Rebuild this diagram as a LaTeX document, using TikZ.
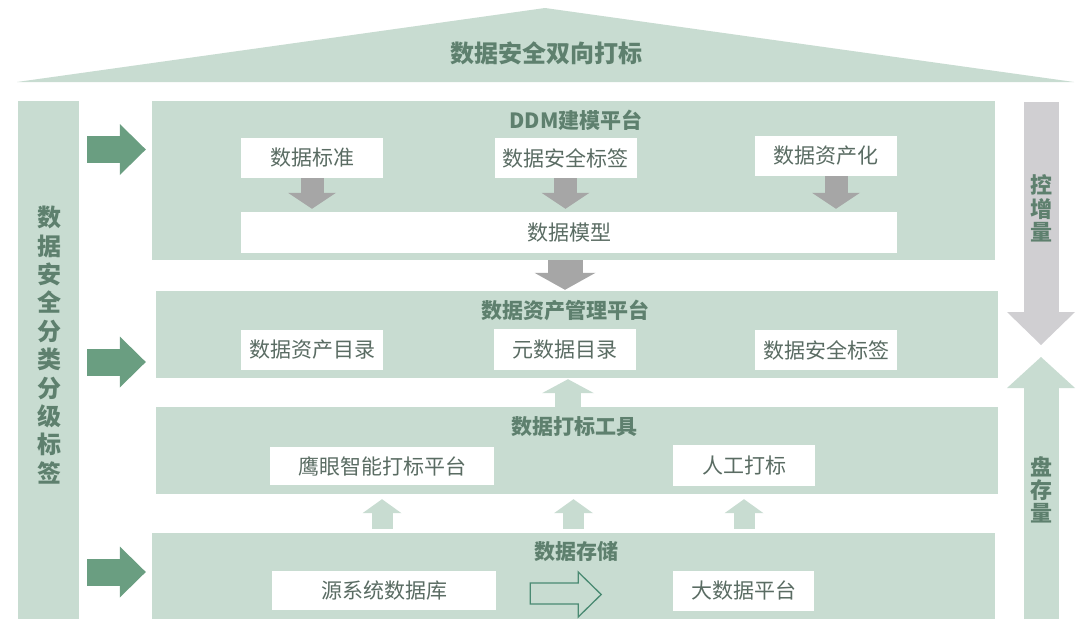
\documentclass[tikz,border=0pt]{standalone}
\usepackage{fontspec}
\setmainfont{Noto Sans CJK SC}
\definecolor{sage}{RGB}{200,220,209}
\definecolor{leafgreen}{RGB}{106,158,129}
\definecolor{titlegreen}{RGB}{94,128,110}
\definecolor{boxtext}{RGB}{90,108,99}
\definecolor{arrgray}{RGB}{166,166,166}
\definecolor{ctrlgray}{RGB}{208,207,210}
\definecolor{outlinegreen}{RGB}{74,138,114}
\usetikzlibrary{arrows.meta, positioning, calc}

\begin{document}
\begin{tikzpicture}[x=1pt, y=-1pt,
  panel/.style={fill=sage, inner sep=0pt},
  card/.style={fill=white, inner sep=0pt, minimum width=142pt, minimum height=40pt, text=boxtext, font=\fontsize{21}{24}\selectfont},
  ttl/.style={text=titlegreen, inner sep=0pt, font=\fontsize{21}{24}\selectfont\bfseries},
  vttl/.style={text=titlegreen, inner sep=0pt, align=center},
  grayarr/.style={draw=arrgray, line width=23pt, -{Triangle[length=16pt, width=48pt, line width=0pt]}, shorten >=3pt},
  bigarr/.style={draw=arrgray, line width=35pt, -{Triangle[length=17pt, width=61pt, line width=0pt]}, shorten >=1pt},
  liftarr/.style={draw=sage, line width=21pt, -{Triangle[length=14pt, width=39pt, line width=0pt]}, shorten <=4pt, shorten >=5pt},
  sidearr/.style={draw=leafgreen, line width=27pt, -{Triangle[length=26pt, width=51pt, line width=0pt]}, shorten <=8pt}]
  \fill[white] (0,0) rectangle (1080,640);
  \useasboundingbox (0,0) rectangle (1080,640);

  % Roof
  \fill[sage] (17,82) -- (545,8) -- (1074,82) -- cycle;
  \node[ttl, font=\fontsize{24}{28}\selectfont\bfseries] (rooft) at (546,53) {数据安全双向打标};

  % Left column
  \node[panel, minimum width=61pt, minimum height=518pt] (col) at (48.5,360) {};
  \node[vttl, font=\fontsize{24}{28.4}\selectfont\bfseries] (colt) at (49,345) {数\\据\\安\\全\\分\\类\\分\\级\\标\\签};

  % Layers
  \node[panel, minimum width=843pt, minimum height=159pt] (ddm) at (573.5,180.5) {};
  \node[panel, minimum width=842pt, minimum height=87pt] (asset) at (577,334.5) {};
  \node[panel, minimum width=842pt, minimum height=87pt] (tagging) at (577,450.5) {};
  \node[panel, minimum width=843pt, minimum height=86pt] (storage) at (573.5,576) {};

  \node[ttl] (ddmt) at (576,120) {DDM建模平台};
  \node[ttl] (assett) at (565,310) {数据资产管理平台};
  \node[ttl] (taggingt) at (574,427) {数据打标工具};
  \node[ttl] (storaget) at (576,552) {数据存储};

  % Cards
  \node[card] (std) at (312,158) {数据标准};
  \node[card] (seclabel) at (565.5,158) {数据安全标签};
  \node[card] (assetize) at (826,156) {数据资产化};
  \node[card, minimum width=656pt, minimum height=41pt] (model) at (569,232.5) {数据模型};

  \node[card] (catalog) at (312,350) {数据资产目录};
  \node[card, minimum height=41pt] (meta) at (565,349.5) {元数据目录};
  \node[card] (seclabelb) at (826,350) {数据安全标签};

  \node[card, minimum width=224pt, minimum height=38pt] (hawkeye) at (382,466) {鹰眼智能打标平台};
  \node[card, minimum height=41pt] (manual) at (744,465.5) {人工打标};

  \node[card, minimum width=224pt, minimum height=39pt] (srcdb) at (384,590.5) {源系统数据库};
  \node[card, minimum width=141pt] (bigdata) at (743.5,591) {大数据平台};

  % Flow arrows
  \draw[grayarr] (std.south) -- (std.south |- model.north);
  \draw[grayarr] (seclabel.south) -- (seclabel.south |- model.north);
  \draw[grayarr] ($(assetize.south)+(10,0)$) -- ($(assetize.south |- model.north)+(10,0)$);
  \draw[bigarr] (ddm.south -| meta) -- (asset.north -| meta);
  \draw[liftarr, line width=26pt, -{Triangle[length=14pt, width=52pt, line width=0pt]}, shorten <=0pt, shorten >=1pt] ($(tagging.north -| meta)+(3,0)$) -- ($(asset.south -| meta)+(3,0)$);
  \draw[liftarr] (storage.north -| hawkeye) -- (tagging.south -| hawkeye);
  \draw[liftarr] (storage.north) -- (storage.north |- tagging.south);
  \draw[liftarr] (storage.north -| manual) -- (tagging.south -| manual);
  \draw[draw=outlinegreen, fill=sage, line width=1.3pt, line join=miter] ($(srcdb.east)+(34,-7.5)$) -- ++(48,0) -- ++(0,-11) -- ++(23,22.5) -- ++(-23,22.5) -- ++(0,-13) -- ++(-48,0) -- cycle;

  % Side arrows
  \draw[sidearr, shorten >=6pt] (col.east |- 0,149.5) -- (ddm.west |- 0,149.5);
  \draw[sidearr, shorten >=10pt] (col.east |- 0,362) -- (asset.west |- 0,362);
  \draw[sidearr, shorten >=6pt] (col.east |- 0,572) -- (storage.west |- 0,572);

  % Right column
  \coordinate (ctrltop) at (1041,102);
  \coordinate (ctrltip) at (1041,345);
  \coordinate (stockbot) at (1041,619);
  \coordinate (stocktip) at (1041,357);
  \draw[draw=ctrlgray, line width=35pt, -{Triangle[length=33pt, width=68pt, line width=0pt]}] (ctrltop) -- (ctrltip);
  \draw[draw=sage, line width=35pt, -{Triangle[length=31pt, width=68pt, line width=0pt]}] (stockbot) -- (stocktip);
  \node[vttl, font=\fontsize{22}{23.5}\selectfont\bfseries] (ctrlt) at (1041,208.5) {控\\增\\量};
  \node[vttl, font=\fontsize{22}{23}\selectfont\bfseries] (stockt) at (1041,489.5) {盘\\存\\量};
\end{tikzpicture}
\end{document}
